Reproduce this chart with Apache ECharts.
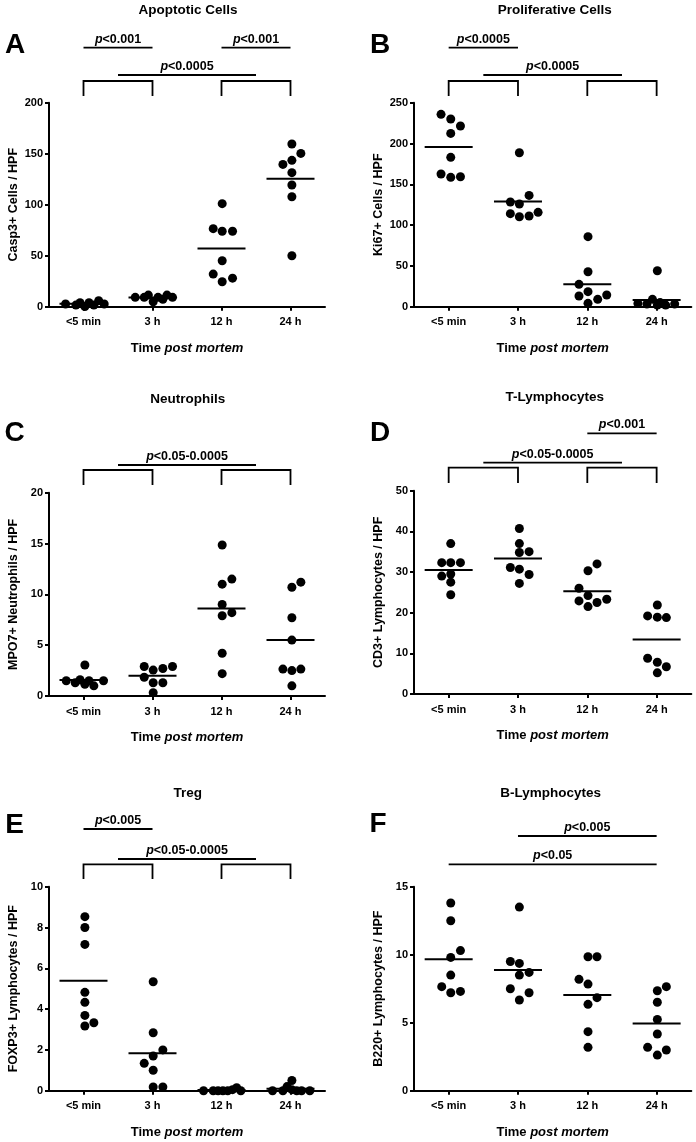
<!DOCTYPE html>
<html>
<head>
<meta charset="utf-8">
<script src="https://cdn.jsdelivr.net/npm/echarts@6/dist/echarts.min.js"></script>
<style>
  html, body { margin: 0; padding: 0; background: #fff; }
  #main { width: 696px; height: 1142px; }
</style>
</head>
<body>
<div id="main"></div>
<script>
var categories = ['<5 min', '3 h', '12 h', '24 h'];

// A - apoptotic cells (Casp3+)
var casp3 = [
  [2.6, 1.6, 3.9, 0.2, 3.9, 1.6, 5.9, 2.6],
  [9.2, 9.2, 11.4, 4.9, 9.2, 7.2, 11.4, 9.2],
  [101, 76.5, 74, 74, 45, 32, 28, 24.5],
  [159.5, 150.3, 143.5, 139.5, 131.4, 119.3, 107.8, 50]
];
var casp3Mean = [3, 9, 57, 125.5];

// B - proliferative cells (Ki67+)
var ki67 = [
  [235.7, 230, 221.4, 212.4, 183, 162.6, 158.5, 159.3],
  [188.7, 128.3, 125.8, 136.4, 114, 110.3, 111.1, 115.6],
  [85.8, 42.9, 27.4, 18.4, 13.1, 9.0, 14.3, 4.1],
  [44, 9, 4, 3.3, 2, 2, 3.3, 5]
];
var ki67Mean = [195.7, 129, 27.4, 8.2];

// C - neutrophils (MPO7+)
var mpo7 = [
  [3.05, 1.5, 1.3, 1.6, 1.15, 1.5, 1.0, 1.5],
  [2.9, 2.55, 2.7, 2.9, 1.85, 1.3, 1.3, 0.33],
  [14.85, 11.0, 11.5, 9.0, 7.9, 8.2, 4.2, 2.2],
  [10.7, 11.2, 7.7, 5.5, 2.65, 2.5, 2.65, 1.0]
];
var mpo7Mean = [1.57, 2.0, 8.6, 5.5];

// D - T-lymphocytes (CD3+)
var cd3 = [
  [37.0, 32.3, 32.3, 32.3, 29.0, 29.5, 27.5, 24.4],
  [40.7, 37.0, 34.8, 35.0, 31.1, 30.7, 29.4, 27.2],
  [32.0, 30.3, 26.0, 24.2, 22.9, 21.5, 22.5, 23.3],
  [21.9, 19.2, 18.9, 18.8, 8.8, 7.8, 6.7, 5.2]
];
var cd3Mean = [30.5, 33.3, 25.3, 13.4];

// E - Treg (FOXP3+)
var foxp3 = [
  [8.53, 8.0, 7.17, 4.82, 4.33, 3.69, 3.17, 3.33],
  [5.34, 2.84, 2.0, 1.7, 1.34, 1.0, 0.18, 0.18],
  [0, 0, 0, 0, 0, 0.05, 0.15, 0],
  [0, 0, 0.2, 0.5, 0.05, 0, 0, 0]
];
var foxp3Mean = [5.39, 1.83, 0.03, 0.09];

// F - B-lymphocytes (B220+)
var b220 = [
  [13.8, 12.5, 10.3, 9.8, 8.5, 7.65, 7.2, 7.3],
  [13.5, 9.5, 9.36, 8.5, 8.7, 7.5, 7.2, 6.67],
  [9.85, 9.85, 8.19, 7.84, 6.84, 6.35, 4.34, 3.19],
  [7.65, 7.35, 6.5, 5.24, 4.17, 3.19, 2.99, 2.62]
];
var b220Mean = [9.66, 8.87, 7.03, 4.95];

// horizontal scatter offsets of the dots (category units)
var casp3Jitter = [
  [-0.26, -0.11, -0.05, 0.02, 0.08, 0.15, 0.22, 0.30],
  [-0.25, -0.12, -0.06, 0.01, 0.08, 0.15, 0.21, 0.29],
  [0.01, -0.12, 0.01, 0.16, 0.01, -0.12, 0.16, 0.01],
  [0.02, 0.15, 0.02, -0.11, 0.02, 0.02, 0.02, 0.02]
];
var ki67Jitter = [
  [-0.11, 0.03, 0.17, 0.03, 0.03, -0.11, 0.03, 0.17],
  [0.02, -0.11, 0.02, 0.16, -0.11, 0.02, 0.16, 0.29],
  [0.01, 0.01, -0.12, 0.01, -0.12, 0.15, 0.28, 0.01],
  [0.01, -0.06, -0.27, -0.14, 0.01, 0.13, 0.26, 0.05]
];
var mpo7Jitter = [
  [0.02, -0.25, -0.12, -0.05, 0.02, 0.08, 0.15, 0.29],
  [-0.12, 0.01, 0.15, 0.29, -0.12, 0.01, 0.15, 0.01],
  [0.01, 0.01, 0.15, 0.01, 0.01, 0.15, 0.01, 0.01],
  [0.02, 0.15, 0.02, 0.02, -0.11, 0.02, 0.15, 0.02]
];
var cd3Jitter = [
  [0.03, -0.10, 0.03, 0.17, -0.10, 0.03, 0.03, 0.03],
  [0.02, 0.02, 0.02, 0.16, -0.11, 0.02, 0.16, 0.02],
  [0.14, 0.01, -0.12, 0.01, -0.12, 0.01, 0.14, 0.28],
  [0.01, -0.13, 0.01, 0.14, -0.13, 0.01, 0.14, 0.01]
];
var foxp3Jitter = [
  [0.02, 0.02, 0.02, 0.02, 0.02, 0.02, 0.02, 0.15],
  [0.01, 0.01, 0.15, 0.01, -0.12, 0.01, 0.01, 0.15],
  [-0.26, -0.12, -0.05, 0.02, 0.09, 0.16, 0.22, 0.28],
  [-0.26, -0.11, -0.05, 0.02, 0.02, 0.09, 0.16, 0.28]
];
var b220Jitter = [
  [0.03, 0.03, 0.17, 0.03, 0.03, -0.10, 0.03, 0.17],
  [0.02, -0.11, 0.02, 0.02, 0.16, -0.11, 0.16, 0.02],
  [0.01, 0.14, -0.12, 0.01, 0.14, 0.01, 0.01, 0.01],
  [0.14, 0.01, 0.01, 0.01, 0.01, -0.13, 0.14, 0.01]
];

var FONT = '"Liberation Sans", Arial, sans-serif';

var panels = [
  { title: 'Apoptotic Cells', letter: 'A', yName: 'Casp3+ Cells / HPF', max: 200, interval: 50,
    values: casp3, jitter: casp3Jitter, mean: casp3Mean,
    grid: [49, 102.7, 276, 204], titlePos: [188, 10], letterPos: [15, 45],
    bars: [[0, 1, 47.7, '<0.001'], [2, 3, 47.7, '<0.001'], [0.5, 2.5, 75, '<0.0005']],
    brackets: [[0, 1, 81, 96], [2, 3, 81, 96]] },
  { title: 'Proliferative Cells', letter: 'B', yName: 'Ki67+ Cells / HPF', max: 250, interval: 50,
    values: ki67, jitter: ki67Jitter, mean: ki67Mean,
    grid: [414, 102.7, 277.3, 204], titlePos: [554.7, 10], letterPos: [380, 45],
    bars: [[0, 1, 47.7, '<0.0005'], [0.5, 2.5, 75, '<0.0005']],
    brackets: [[0, 1, 81, 96], [2, 3, 81, 96]] },
  { title: 'Neutrophils', letter: 'C', yName: 'MPO7+ Neutrophils / HPF', max: 20, interval: 5,
    values: mpo7, jitter: mpo7Jitter, mean: mpo7Mean,
    grid: [49, 492.7, 276, 203.3], titlePos: [187.7, 399], letterPos: [14.5, 433],
    bars: [[0.5, 2.5, 465, '<0.05-0.0005']],
    brackets: [[0, 1, 470, 485], [2, 3, 470, 485]] },
  { title: 'T-Lymphocytes', letter: 'D', yName: 'CD3+ Lymphocytes / HPF', max: 50, interval: 10,
    values: cd3, jitter: cd3Jitter, mean: cd3Mean,
    grid: [414, 490.7, 277.3, 203.3], titlePos: [554.7, 397.3], letterPos: [380, 433],
    bars: [[2, 3, 433.3, '<0.001'], [0.5, 2.5, 462.7, '<0.05-0.0005']],
    brackets: [[0, 1, 467.7, 483], [2, 3, 467.7, 483]] },
  { title: 'Treg', letter: 'E', yName: 'FOXP3+ Lymphocytes / HPF', max: 10, interval: 2,
    values: foxp3, jitter: foxp3Jitter, mean: foxp3Mean,
    grid: [49, 886.7, 276, 204], titlePos: [187.7, 793], letterPos: [14.5, 825],
    bars: [[0, 1, 829, '<0.005'], [0.5, 2.5, 859, '<0.05-0.0005']],
    brackets: [[0, 1, 864.3, 879], [2, 3, 864.3, 879]] },
  { title: 'B-Lymphocytes', letter: 'F', yName: 'B220+ Lymphocytes / HPF', max: 15, interval: 5,
    values: b220, jitter: b220Jitter, mean: b220Mean,
    grid: [414, 886.7, 277.3, 204], titlePos: [550.7, 793], letterPos: [378, 824],
    bars: [[1, 3, 836, '<0.005'], [0, 3, 864.3, '<0.05']],
    brackets: [] }
];

var chart = echarts.init(document.getElementById('main'), null, { renderer: 'canvas' });

var grids = [], xAxes = [], yAxes = [], series = [], texts = [];
var tickStyle = { color: '#000', width: 2 };

panels.forEach(function (p, i) {
  grids.push({ left: p.grid[0], top: p.grid[1], width: p.grid[2], height: p.grid[3] });
  xAxes.push({
    type: 'category', gridIndex: i, data: categories, boundaryGap: true,
    axisLine: { show: true, onZero: false, lineStyle: tickStyle },
    axisTick: { show: true, alignWithLabel: true, length: 4, lineStyle: tickStyle },
    axisLabel: { color: '#000', fontWeight: 'bold', fontSize: 11, fontFamily: FONT, margin: 10 },
    name: 'Time {i|post mortem}', nameLocation: 'middle', nameGap: 35,
    nameTextStyle: {
      color: '#000', fontWeight: 'bold', fontSize: 13, fontFamily: FONT,
      rich: { i: { color: '#000', fontWeight: 'bold', fontStyle: 'italic', fontSize: 13, fontFamily: FONT } }
    }
  });
  xAxes.push({ type: 'value', gridIndex: i, min: -0.5, max: 3.5, show: false,
    axisLine: { onZero: false } });
  yAxes.push({
    type: 'value', gridIndex: i, min: 0, max: p.max, interval: p.interval,
    axisLine: { show: true, onZero: false, lineStyle: tickStyle },
    axisTick: { show: true, length: 4, lineStyle: tickStyle },
    splitLine: { show: false },
    axisLabel: { color: '#000', fontWeight: 'bold', fontSize: 11, fontFamily: FONT, margin: 6 },
    name: p.yName, nameLocation: 'middle', nameGap: 29,
    nameTextStyle: { color: '#000', fontWeight: 'bold', fontSize: 12.5, fontFamily: FONT }
  });

  var pts = [];
  p.values.forEach(function (col, c) {
    col.forEach(function (v, k) { pts.push([c + p.jitter[c][k], v]); });
  });
  series.push({
    type: 'scatter', xAxisIndex: 2 * i + 1, yAxisIndex: i, data: pts,
    symbol: 'circle', symbolSize: 9, itemStyle: { color: '#000', opacity: 1 },
    clip: false, z: 3, silent: true
  });
  series.push({
    type: 'scatter', xAxisIndex: 2 * i + 1, yAxisIndex: i,
    data: p.mean.map(function (m, c) { return [c, m]; }),
    symbol: 'rect', symbolSize: [48, 2], itemStyle: { color: '#000', opacity: 1 },
    clip: false, z: 2, silent: true
  });

  texts.push({ type: 'text', x: p.titlePos[0], y: p.titlePos[1],
    style: { text: p.title, fill: '#000', font: 'bold 13.5px ' + FONT, textAlign: 'center', textVerticalAlign: 'middle' } });
  texts.push({ type: 'text', x: p.letterPos[0], y: p.letterPos[1],
    style: { text: p.letter, fill: '#000', font: 'bold 28px ' + FONT, textAlign: 'center', textVerticalAlign: 'middle' } });
});

chart.setOption({
  animation: false,
  backgroundColor: '#fff',
  grid: grids,
  xAxis: xAxes,
  yAxis: yAxes,
  series: series
});

// significance bars and brackets, placed on the category positions
panels.forEach(function (p, i) {
  function px(c) { return chart.convertToPixel({ xAxisIndex: 2 * i + 1 }, c); }
  p.bars.forEach(function (b) {
    var x1 = px(b[0]), x2 = px(b[1]);
    texts.push({ type: 'line', shape: { x1: x1, y1: b[2], x2: x2, y2: b[2] },
      style: { stroke: '#000', lineWidth: 1.8 } });
    texts.push({ type: 'text', x: (x1 + x2) / 2, y: b[2] - 8.5,
      style: {
        text: '{i|p}{n|' + b[3] + '}', textAlign: 'center', textVerticalAlign: 'middle',
        rich: {
          i: { fill: '#000', fontStyle: 'italic', fontWeight: 'bold', fontSize: 12.5, fontFamily: FONT },
          n: { fill: '#000', fontWeight: 'bold', fontSize: 12.5, fontFamily: FONT }
        }
      } });
  });
  p.brackets.forEach(function (b) {
    var x1 = px(b[0]), x2 = px(b[1]);
    texts.push({ type: 'polyline', shape: { points: [[x1, b[3]], [x1, b[2]], [x2, b[2]], [x2, b[3]]] },
      style: { stroke: '#000', lineWidth: 1.8, fill: null } });
  });
});

chart.setOption({ graphic: texts });
</script>
</body>
</html>
